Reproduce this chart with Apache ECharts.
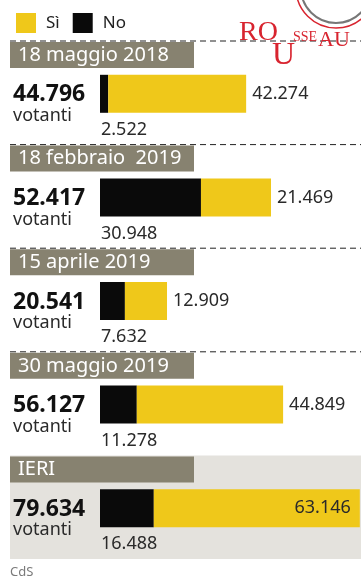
<!DOCTYPE html>
<html>
<head>
<meta charset="utf-8">
<script src="https://cdn.jsdelivr.net/npm/echarts@6/dist/echarts.min.js"></script>
<style>html,body{margin:0;padding:0;background:#fff}#c{width:361px;height:583px}</style>
</head>
<body>
<div id="c"></div>
<script>
var dates = ['18 maggio 2018', '18 febbraio  2019', '15 aprile 2019', '30 maggio 2019', 'IERI'];
var totali = [44796, 52417, 20541, 56127, 79634];
var si = [42274, 21469, 12909, 44849, 63146];
var no = [2522, 30948, 7632, 11278, 16488];
var xMax = 80000;

var FONT = 'Noto Sans';
var YEL = '#efc81a', BLK = '#0a0a0a', GRAY = '#878270', BG = '#e4e2dd';
function fmt(v) { return String(v).replace(/\B(?=(\d{3})+(?!\d))/g, '.'); }

var chart = echarts.init(document.getElementById('c'));
var gridTop = 42, gridH = 518;
var option = {
  animation: false,
  textStyle: { fontFamily: FONT },
  legend: {
    data: ['Sì', 'No'], left: 11, top: 8, itemWidth: 20, itemHeight: 20, itemGap: 13,
    icon: 'rect', selectedMode: false,
    textStyle: { fontSize: 17, color: '#222', fontFamily: FONT, padding: [0, 0, 0, 5] }
  },
  grid: { left: 100, right: -1, top: gridTop, height: gridH },
  xAxis: { type: 'value', min: 0, max: xMax, show: false },
  yAxis: {
    type: 'category', data: dates, inverse: true,
    axisLine: { show: false }, axisTick: { show: false }, splitLine: { show: false },
    axisLabel: {
      align: 'left', margin: 87, padding: [22, 0, 0, 0],
      formatter: function (val, i) { return '{t|' + fmt(totali[i]) + '}\n{v|votanti}'; },
      rich: {
        t: { fontSize: 23, fontWeight: 'bold', color: '#111', lineHeight: 22, fontFamily: FONT },
        v: { fontSize: 18, color: '#2a2a2a', lineHeight: 20, fontFamily: FONT }
      }
    }
  },
  series: [
    {
      name: 'No', type: 'bar', stack: 'v', barWidth: 38, data: no,
      itemStyle: { color: BLK },
      label: {
        show: true, position: [1, 55], align: 'left', verticalAlign: 'middle',
        fontSize: 18, color: '#2a2a2a', fontFamily: FONT,
        formatter: function (p) { return fmt(p.value); }
      }
    },
    {
      name: 'Sì', type: 'bar', stack: 'v', barWidth: 38,
      data: si.map(function (v, i) {
        var item = { value: v };
        if (totali[i] > xMax * 0.9) item.label = { position: 'insideRight', distance: 9 };
        return item;
      }),
      itemStyle: { color: YEL },
      label: {
        show: true, position: 'right', distance: 6,
        fontSize: 18, color: '#2a2a2a', fontFamily: FONT,
        formatter: function (p) { return fmt(p.value); }
      }
    }
  ]
};
chart.setOption(option);

var band = gridH / dates.length;
var g = [];
dates.forEach(function (d, i) {
  var cy = chart.convertToPixel({ yAxisIndex: 0 }, i);
  var top = cy - band / 2 - 1;
  var last = i === dates.length - 1;
  if (last) {
    g.push({ type: 'rect', z: -10, shape: { x: 10, y: top, width: 351, height: band }, style: { fill: BG } });
  } else {
    g.push({ type: 'line', z: 1, shape: { x1: 10, y1: top, x2: 361, y2: top }, style: { stroke: '#222', lineWidth: 1, lineDash: [6, 4] } });
  }
  g.push({ type: 'rect', z: 2, shape: { x: 10, y: top + 1, width: 184, height: 26 }, style: { fill: GRAY } });
  g.push({ type: 'text', z: 3, x: 18, y: top + 14, style: { text: d, fill: '#fff', font: '20px "' + FONT + '"', textVerticalAlign: 'middle' } });
});
// logo Rousseau (decorativo)
g.push({ type: 'circle', z: 1, shape: { cx: 336, cy: -12, r: 40 }, style: { fill: '#fff', stroke: '#d8242f', lineWidth: 1.5 } });
g.push({ type: 'circle', z: 1, shape: { cx: 336, cy: -12, r: 35 }, style: { fill: 'none', stroke: '#777', lineWidth: 2 } });
g.push({ type: 'text', z: 4, x: 239, y: 19, style: { text: 'RO', fill: '#d8242f', font: '28px "Liberation Serif"' } });
g.push({ type: 'text', z: 4, x: 272, y: 40, style: { text: 'U', fill: '#d8242f', font: '32px "Liberation Serif"' } });
g.push({ type: 'text', z: 4, x: 293, y: 30, style: { text: 'SSE', fill: '#d8242f', font: '14px "Liberation Serif"' } });
g.push({ type: 'text', z: 4, x: 318, y: 29, style: { text: 'AU', fill: '#d8242f', font: '22px "Liberation Serif"' } });
g.push({ type: 'text', z: 4, x: 10, y: 572, style: { text: 'CdS', fill: '#7a7a7a', font: '13px "' + FONT + '"', textVerticalAlign: 'middle' } });
chart.setOption({ graphic: { elements: g } });
</script>
</body>
</html>
